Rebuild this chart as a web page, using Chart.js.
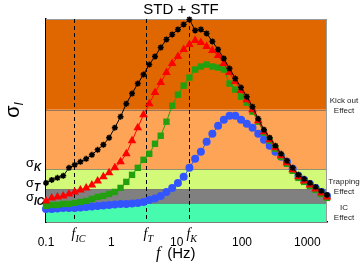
<!DOCTYPE html>
<html>
<head>
<meta charset="utf-8">
<script src="https://cdn.jsdelivr.net/npm/chart.js@4.4.0/dist/chart.umd.min.js"></script>
<style>
    html, body { margin: 0; padding: 0; background: #fff; }
</style>
</head>
<body>
<canvas id="chart" width="361" height="266"></canvas>
<script>
// frequencies (Hz), same for every curve
const freqs = [0.1, 0.1224, 0.1498, 0.1834, 0.2245, 0.2748, 0.3364, 0.4118, 0.504, 0.6169,
    0.7551, 0.9243, 1.131, 1.385, 1.695, 2.075, 2.54, 3.109, 3.806, 4.659,
    5.702, 6.98, 8.543, 10.46, 12.8, 15.67, 19.18, 23.48, 28.73, 35.17,
    43.05, 52.7, 64.5, 78.96, 96.65, 118.3, 144.8, 177.3, 217, 265.6,
    325.1, 398, 487.1, 596.3, 729.9, 893.4, 1094, 1339, 1639, 2000];

// sigma (arbitrary units, no y ticks in the original)
const blackSeries = [39, 42, 44, 46, 54, 57, 60, 63, 67, 72, 77, 84, 94, 105, 118, 128, 138, 147, 157, 165,
    174, 182, 187, 192, 197, 202, 191, 192, 188, 180, 172, 163, 153, 143, 134, 125, 115, 103, 92, 84,
    76, 68, 61, 54, 47, 43, 39, 35, 31, 27];
const redSeries = [21, 24, 25, 26, 28, 30, 32, 34, 37, 41, 45, 49, 54, 60, 68, 81, 94, 107, 118, 129,
    139, 149, 158, 165, 172, 177, 181, 179, 175, 171, 166, 158, 149, 140, 131, 122, 112, 101, 90, 82,
    74, 66, 59, 52, 45, 41, 37, 33, 29, 25];
const greenSeries = [16, 17, 17, 18, 18, 19, 20, 21, 23, 25, 26, 28, 30, 34, 40, 47, 54, 62, 68, 78,
    86, 100, 116, 127, 136, 144, 152, 155, 157, 155, 154, 152, 138, 132, 125, 119, 110, 100, 89, 81,
    73, 65, 58, 51, 44, 40, 36, 32, 28, 24];
const blueSeries = [13, 13, 13.5, 14, 14, 14, 14.5, 15, 15.5, 16, 16.5, 17, 17.5, 18, 18, 18.5, 19, 20, 22, 23.5,
    26, 30, 34, 39, 45, 54, 63, 70, 80, 88, 96, 102, 106, 106, 102, 98, 94, 88, 82, 76,
    70, 65, 60, 53, 46, 42, 38, 34, 30, 26];

// background bands (value edges, bottom to top) and their colours
const bandEdges = [0, 18.7, 32.7, 52.7, 112, 202.4];
const bandColors = ['#46FBAE', '#808080', '#D2FA78', '#FDA456', '#E06700'];

// sigma thresholds shown on the y axis
const sigmaLevels = [52.7, 32.7, 18.7];
const sigmaSubs = ['K', 'T', 'IC'];

// characteristic frequencies (dashed lines)
const charFreqs = [0.272, 3.45, 15.6];
const charSubs = ['IC', 'T', 'K'];

const xTicks = [0.1, 1, 10, 100, 1000];

// effect labels on the right
const effectLabels = [
    { lines: ['Kick out', 'Effect'], y: 100 },
    { lines: ['Trapping', 'Effect'], y: 181 },
    { lines: ['IC', 'Effect'], y: 207 }
];

const SANS = '"Liberation Sans", Arial, sans-serif';
const SERIF = '"Liberation Serif", "Times New Roman", serif';

function pairs(vals) {
    return freqs.map((f, i) => ({ x: f, y: vals[i] }));
}

function subText(ctx, main, sub, x, y, mainFont, subFont, dy, align) {
    ctx.font = mainFont;
    const w1 = ctx.measureText(main).width;
    ctx.font = subFont;
    const w2 = ctx.measureText(sub).width;
    let x0 = x;
    if (align === 'center') x0 = x - (w1 + w2) / 2;
    if (align === 'right') x0 = x - w1 - w2;
    ctx.textAlign = 'left';
    ctx.font = mainFont;
    ctx.fillText(main, x0, y);
    ctx.font = subFont;
    ctx.fillText(sub, x0 + w1, y + dy);
}

const decorPlugin = {
    id: 'decor',
    beforeDatasetsDraw(chart) {
        const { ctx, chartArea: a, scales } = chart;
        const ys = scales.y;
        ctx.save();
        for (let i = 0; i < bandColors.length; i++) {
            const y1 = ys.getPixelForValue(bandEdges[i]);
            const y2 = ys.getPixelForValue(bandEdges[i + 1]);
            ctx.fillStyle = bandColors[i];
            ctx.fillRect(a.left, y2, a.right - a.left, y1 - y2);
        }
        ctx.strokeStyle = 'rgba(90,90,90,0.6)';
        ctx.lineWidth = 1;
        for (let i = 1; i < bandEdges.length - 1; i++) {
            const y = Math.round(ys.getPixelForValue(bandEdges[i])) + 0.5;
            ctx.beginPath();
            ctx.moveTo(a.left, y);
            ctx.lineTo(a.right, y);
            ctx.stroke();
        }
        // top / right frame
        ctx.strokeStyle = '#9a9a9a';
        ctx.beginPath();
        ctx.moveTo(a.left, a.top + 0.5);
        ctx.lineTo(a.right - 0.5, a.top + 0.5);
        ctx.lineTo(a.right - 0.5, a.bottom);
        ctx.stroke();
        // dashed lines
        ctx.strokeStyle = '#000';
        ctx.setLineDash([4, 3]);
        charFreqs.forEach(f => {
            const x = Math.round(scales.x.getPixelForValue(f)) + 0.5;
            ctx.beginPath();
            ctx.moveTo(x, a.top);
            ctx.lineTo(x, a.bottom);
            ctx.stroke();
        });
        ctx.restore();
    },
    afterDraw(chart) {
        const { ctx, scales } = chart;
        ctx.save();
        ctx.fillStyle = '#000';
        ctx.textBaseline = 'alphabetic';

        // title
        ctx.font = '15px ' + SANS;
        ctx.textAlign = 'center';
        ctx.fillText('STD + STF', 181, 14);

        // sigma levels
        sigmaLevels.forEach((v, i) => {
            const y = scales.y.getPixelForValue(v);
            subText(ctx, 'σ', sigmaSubs[i], 26, y - 2,
                '13px ' + SANS, 'italic bold 10px ' + SANS, 4, 'left');
        });

        // characteristic frequency labels
        charFreqs.forEach((f, i) => {
            const x = scales.x.getPixelForValue(f);
            ctx.font = 'italic 14px ' + SERIF;
            ctx.textAlign = 'right';
            ctx.fillText('f', x + 1, 238);
            ctx.font = 'italic 10px ' + SERIF;
            ctx.textAlign = 'left';
            ctx.fillText(charSubs[i], x + 1, 242);
        });

        // x axis title
        ctx.font = 'italic 16px ' + SERIF;
        ctx.textAlign = 'left';
        ctx.fillText('f', 156, 258);
        ctx.font = '15px ' + SANS;
        ctx.fillText(' (Hz)', 163, 258);

        // y axis title
        ctx.translate(19, 110);
        ctx.rotate(-Math.PI / 2);
        subText(ctx, 'σ', 'I', 0, 0, '20px ' + SANS, 'italic 12px ' + SANS, 4, 'center');
        ctx.setTransform(1, 0, 0, 1, 0, 0);

        // effect labels
        ctx.font = '8px ' + SANS;
        ctx.textAlign = 'center';
        ctx.fillStyle = '#222';
        effectLabels.forEach(lab => {
            lab.lines.forEach((t, k) => ctx.fillText(t, 344, lab.y + 3 + k * 10));
        });
        ctx.restore();
    }
};

const baseDs = { borderWidth: 1, clip: false, tension: 0 };

new Chart(document.getElementById('chart'), {
    type: 'line',
    data: {
        datasets: [
            Object.assign({}, baseDs, {
                label: 'black', data: pairs(blackSeries), borderColor: '#000', backgroundColor: '#000',
                pointStyle: 'star', pointRadius: 3, pointBorderWidth: 1.5, pointBorderColor: '#000'
            }),
            Object.assign({}, baseDs, {
                label: 'red', data: pairs(redSeries), borderColor: '#FF0000', backgroundColor: '#FF0000',
                pointStyle: 'triangle', pointRadius: 5, pointBorderWidth: 0
            }),
            Object.assign({}, baseDs, {
                label: 'green', data: pairs(greenSeries), borderColor: '#22A010', backgroundColor: '#22A010',
                pointStyle: 'rect', pointRadius: 4.5, pointBorderWidth: 0
            }),
            Object.assign({}, baseDs, {
                label: 'blue', data: pairs(blueSeries), borderColor: '#3355FF', backgroundColor: '#3355FF',
                pointStyle: 'circle', pointRadius: 4, pointBorderWidth: 0
            })
        ]
    },
    options: {
        responsive: false,
        animation: false,
        events: [],
        layout: { padding: { top: 19, right: 34, left: 0, bottom: 0 } },
        plugins: { legend: { display: false }, tooltip: { enabled: false } },
        scales: {
            x: {
                type: 'logarithmic',
                min: 0.1,
                max: 2000,
                grid: { display: false },
                border: { display: true, color: '#000', width: 1.5 },
                afterBuildTicks: s => { s.ticks = xTicks.map(v => ({ value: v })); },
                afterFit: s => { s.height = 44; },
                ticks: {
                    autoSkip: false,
                    maxRotation: 0,
                    padding: 5,
                    color: '#000',
                    font: { family: SANS, size: 12 },
                    callback: v => String(v)
                }
            },
            y: {
                type: 'linear',
                min: 0,
                max: 202.4,
                grid: { display: false },
                border: { display: true, color: '#000', width: 1.5 },
                ticks: { display: false },
                afterFit: s => { s.width = 46; }
            }
        }
    },
    plugins: [decorPlugin]
});
</script>
</body>
</html>
